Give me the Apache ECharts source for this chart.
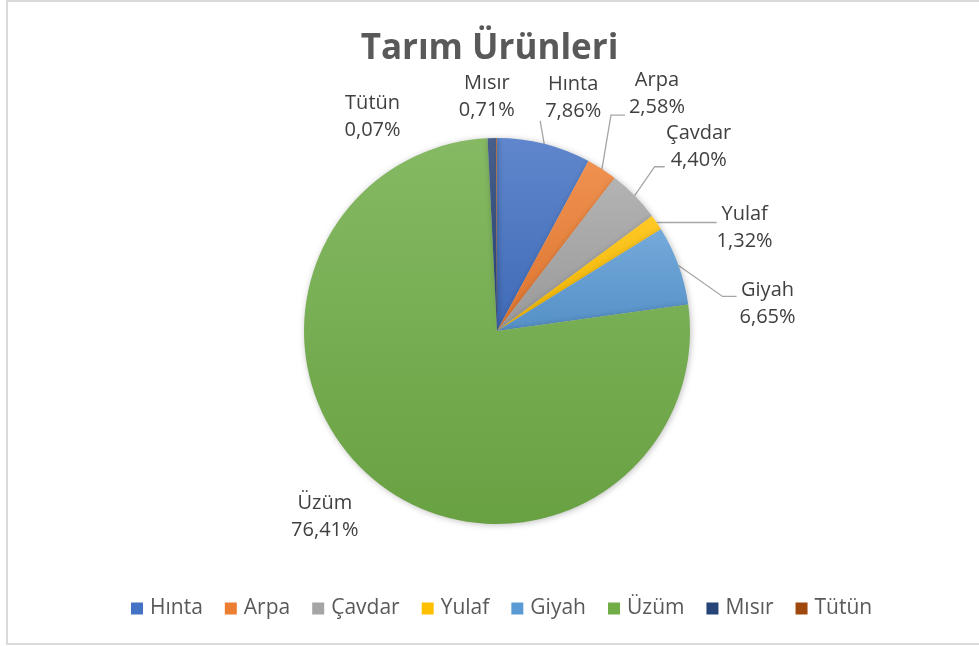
<!DOCTYPE html>
<html>
<head>
<meta charset="utf-8">
<script src="https://cdn.jsdelivr.net/npm/echarts@6/dist/echarts.min.js"></script>
<style>
  html, body { margin: 0; padding: 0; background: #fff; }
  #main { width: 979px; height: 646px; }
</style>
</head>
<body>
<div id="main"></div>
<script>
// data
var names = ['Hınta', 'Arpa', 'Çavdar', 'Yulaf', 'Giyah', 'Üzüm', 'Mısır', 'Tütün'];
var shares = [7.86, 2.58, 4.40, 1.32, 6.65, 76.41, 0.71, 0.07];
var colors = ['#4472C4', '#ED7D31', '#A5A5A5', '#FFC000', '#5B9BD5', '#70AD47', '#264478', '#9E480E'];

// label placement relative to the slice edge point: label centre offset, leader line bends
var labelOffset = [[29, -46], [55, -75], [64, -49], [88, 5], [89, 38], [-49, 37], [-5, -41], [-124, -21]];
var lineBends = [
    [[-4, -23]],
    [[9, -54], [23, -54]],
    [[20, -29], [30, -29]],
    [[60, 0]],
    [[44, 31], [58, 31]],
    [], [], []
];

function lighten(hex, amt) {
    var n = parseInt(hex.slice(1), 16);
    var r = (n >> 16) & 255, g = (n >> 8) & 255, b = n & 255;
    r = Math.round(r + (255 - r) * amt);
    g = Math.round(g + (255 - g) * amt);
    b = Math.round(b + (255 - b) * amt);
    return 'rgb(' + r + ',' + g + ',' + b + ')';
}
function darken(hex, amt) {
    var n = parseInt(hex.slice(1), 16);
    var r = (n >> 16) & 255, g = (n >> 8) & 255, b = n & 255;
    return 'rgb(' + Math.round(r * (1 - amt)) + ',' + Math.round(g * (1 - amt)) + ',' + Math.round(b * (1 - amt)) + ')';
}

var pieData = names.map(function (n, i) {
    return {
        name: n,
        value: shares[i],
        itemStyle: {
            color: new echarts.graphic.LinearGradient(0, 0, 0, 1, [
                {offset: 0, color: lighten(colors[i], 0.15)},
                {offset: 1, color: darken(colors[i], 0.07)}
            ])
        }
    };
});

var chart = echarts.init(document.getElementById('main'));

var option = {
    color: colors,
    title: {
        text: 'Tarım Ürünleri',
        left: 'center',
        top: 27,
        textStyle: {
            fontFamily: 'Open Sans',
            fontSize: 35,
            fontWeight: 'bold',
            color: '#595959'
        }
    },
    graphic: [{
        type: 'rect',
        shape: {x: 7, y: 1, width: 990, height: 643},
        style: {fill: 'none', stroke: '#d9d9d9', lineWidth: 2},
        silent: true
    }],
    legend: {
        bottom: 22,
        left: 126,
        itemWidth: 12,
        itemHeight: 12,
        itemGap: 22,
        icon: 'rect',
        textStyle: {
            fontFamily: 'Open Sans',
            fontSize: 21,
            color: '#595959',
            padding: [0, 0, 0, 2]
        },
        data: names.map(function (n, i) {
            return {name: n, itemStyle: {color: colors[i]}};
        })
    },
    series: [{
        type: 'pie',
        center: [497, 331],
        radius: 193,
        startAngle: 90,
        clockwise: true,
        avoidLabelOverlap: false,
        data: pieData,
        itemStyle: {
            borderWidth: 0,
            shadowBlur: 6,
            shadowColor: 'rgba(0,0,0,0.25)',
            shadowOffsetX: 1,
            shadowOffsetY: 1
        },
        label: {
            show: true,
            position: 'outside',
            fontFamily: 'Open Sans',
            fontSize: 20,
            lineHeight: 27,
            color: '#404040',
            formatter: function (p) {
                return p.name + '\n' + p.value.toFixed(2).replace('.', ',') + '%';
            }
        },
        labelLine: {
            show: true,
            length: 10,
            length2: 10,
            lineStyle: {color: '#a6a6a6', width: 1.3}
        },
        labelLayout: function (params) {
            var i = params.dataIndex;
            var p0 = params.labelLinePoints[0];
            var pts = [p0].concat(lineBends[i].map(function (d) {
                return [p0[0] + d[0], p0[1] + d[1]];
            }));
            return {
                x: p0[0] + labelOffset[i][0],
                y: p0[1] + labelOffset[i][1],
                align: 'center',
                verticalAlign: 'middle',
                hideOverlap: false,
                labelLinePoints: pts.length > 1 ? pts : [p0, p0]
            };
        },
        emphasis: {scale: false}
    }]
};

chart.setOption(option);
</script>
</body>
</html>
